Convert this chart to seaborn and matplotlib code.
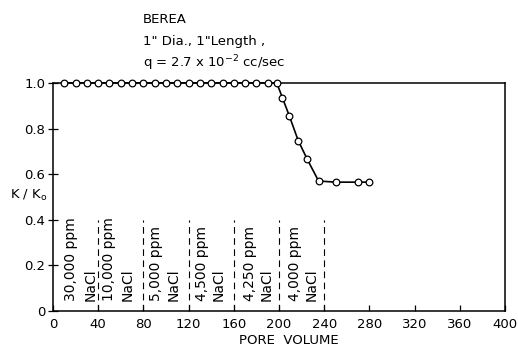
import matplotlib
matplotlib.use("Agg")
import matplotlib.pyplot as plt
import seaborn as sns
import pandas as pd

# Data
pore_volume = [10, 20, 30, 40, 50, 60, 70, 80, 90, 100, 110, 120, 130, 140, 150,
               160, 170, 180, 190, 198, 203, 209, 217, 225, 235, 250, 270, 280]
k_ratio = [1.0, 1.0, 1.0, 1.0, 1.0, 1.0, 1.0, 1.0, 1.0, 1.0, 1.0, 1.0, 1.0, 1.0, 1.0,
           1.0, 1.0, 1.0, 1.0, 1.0, 0.935, 0.857, 0.747, 0.665, 0.57, 0.565, 0.565, 0.565]

boundaries = [40, 80, 120, 160, 200, 240]
salinity_labels = ["30,000 ppm", "10,000 ppm", "5,000 ppm", "4,500 ppm", "4,250 ppm", "4,000 ppm"]
label_ppm_x = [16, 50, 91, 132, 174, 214]
label_nacl_x = [33, 66, 107, 147, 189, 229]

x_ticks = [0, 40, 80, 120, 160, 200, 240, 280, 320, 360, 400]
y_ticks = [0, 0.2, 0.4, 0.6, 0.8, 1.0]
y_tick_labels = ["0", "0.2", "0.4", "0.6", "0.8", "1.0"]

sns.set_style("ticks")
plt.rcParams['font.family'] = ['DejaVu Sans']
plt.rcParams.update({"text.color": "black", "axes.labelcolor": "black",
                     "xtick.color": "black", "ytick.color": "black",
                     "axes.edgecolor": "black"})

fig = plt.figure(figsize=(5.18, 3.47), dpi=100)
ax = fig.add_axes([0.1023, 0.1037, 0.8727, 0.6573])

df = pd.DataFrame({"pv": pore_volume, "k": k_ratio})
sns.lineplot(data=df, x="pv", y="k", ax=ax, color="black", linewidth=1.2,
             marker="o", markersize=4.8, markerfacecolor="white",
             markeredgecolor="black", markeredgewidth=0.9, clip_on=False, zorder=3)

for b in boundaries:
    ax.plot([b, b], [0, 0.4], color="black", linestyle=(0, (6, 4)), linewidth=0.8)

for lx, nx, lab in zip(label_ppm_x, label_nacl_x, salinity_labels):
    ax.text(lx, 0.045, lab, rotation=90, ha="center", va="bottom", fontsize=10)
    ax.text(nx, 0.045, "NaCl", rotation=90, ha="center", va="bottom", fontsize=10)

ax.set_xlim(0, 400)
ax.set_ylim(0, 1.0)
ax.set_xticks(x_ticks)
ax.set_yticks(y_ticks)
ax.set_yticklabels(y_tick_labels)
ax.tick_params(axis="x", direction="in", length=4, width=0.9, labelsize=9.5, pad=5)
ax.tick_params(axis="y", direction="inout", length=7, width=0.9, labelsize=9.5, pad=2)
ax.set_xlabel("")
ax.set_ylabel("")
for s in ax.spines.values():
    s.set_linewidth(1.1)
    s.set_color("black")

fig.text(0.558, 0.02, "PORE  VOLUME", ha="center", va="center", fontsize=9.5)
fig.text(0.02, 0.438, "K / K$_\\mathregular{o}$", ha="left", va="center", fontsize=9.5)

fig.text(0.276, 0.945, "BEREA", ha="left", va="center", fontsize=9.5)
fig.text(0.276, 0.879, "1\" Dia., 1\"Length ,", ha="left", va="center", fontsize=9.5)
fig.text(0.276, 0.818, "q = 2.7 x 10$^{\\mathregular{-2}}$ cc/sec", ha="left", va="center", fontsize=9.5)

fig.savefig("out.png", dpi=100)
